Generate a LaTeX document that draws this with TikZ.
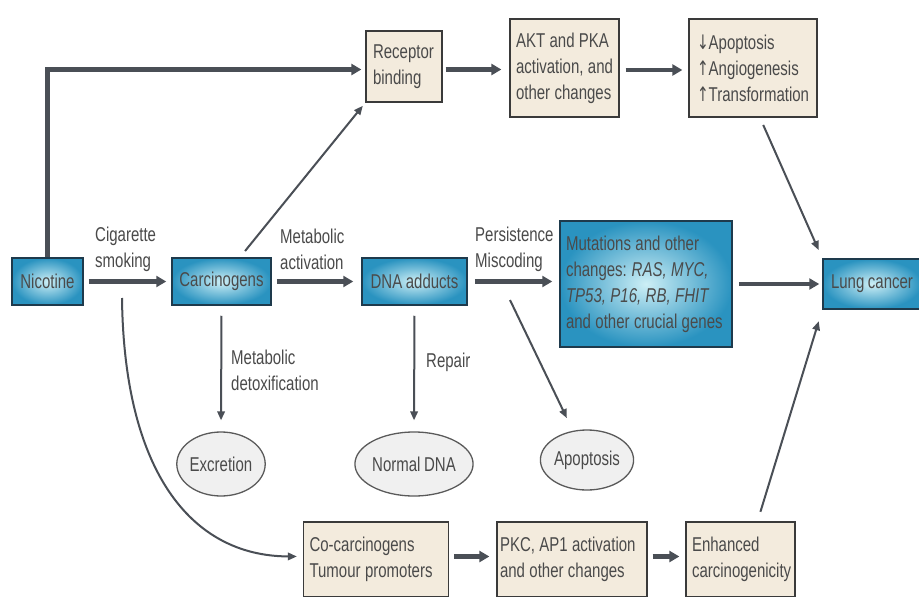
\documentclass[tikz,border=0pt]{standalone}
\usepackage{fontspec}
\setmainfont{Liberation Sans}[FakeStretch=0.75, WordSpace=0.85]
\newfontfamily\arrfont{DejaVu Sans}[FakeStretch=0.7]
\usetikzlibrary{arrows.meta,shapes.geometric}
\newcommand\wsp{\spaceskip=0.22em plus 0.05em\relax\xspaceskip=0.24em\relax}
\definecolor{txt}{HTML}{4A4A4A}
\definecolor{arr}{HTML}{4A4F56}
\definecolor{blueout}{HTML}{2A93C0}
\definecolor{bluein}{HTML}{CDEFF6}
\definecolor{bluedraw}{HTML}{1E3A4C}
\definecolor{beige}{HTML}{F3EBDD}
\definecolor{beigedraw}{HTML}{3A3A3A}
\definecolor{ellfill}{HTML}{F0F0F0}
\definecolor{elldraw}{HTML}{5A5A5A}
\begin{document}
\begin{tikzpicture}[x=1pt,y=1pt,
  every node/.style={font=\fontsize{20}{26}\selectfont, text=txt},
  bluebox/.style={rectangle, draw=bluedraw, line width=1.5pt, inner color=bluein, outer color=blueout, inner sep=0pt},
  beigebox/.style={rectangle, draw=beigedraw, line width=1.3pt, fill=beige, inner ysep=0pt, align=left},
  ellnode/.style={ellipse, draw=elldraw, line width=1.3pt, fill=ellfill, inner sep=0pt},
  lbl/.style={anchor=west, align=left, inner sep=0pt},
  thickarr/.style={draw=arr, line width=4.5pt, -{Triangle[length=10pt,width=11pt]}},
  thinarr/.style={draw=arr, line width=2pt, -{Triangle[length=9pt,width=7.5pt]}}
]
\useasboundingbox (0,0) rectangle (919,-597);
\fill[white] (0,0) rectangle (919,-597);

% blue nodes
\node[bluebox, minimum width=71, minimum height=47] (nic) at (47.5,-281.5) {Nicotine};
\node[bluebox, minimum width=99, minimum height=47] (carc) at (221.5,-281.5) {Carcinogens};
\node[bluebox, minimum width=105, minimum height=47] (dna) at (414.5,-281.5) {DNA adducts};
\node[bluebox, minimum height=126, text width=160, inner xsep=6pt, align=left] (mut) at (646,-284)
  {\wsp Mutations and other\\changes: \textit{RAS, MYC,}\\\textit{TP53, P16, RB, FHIT}\\and other crucial genes};
\node[bluebox, minimum width=98, minimum height=50] (lung) at (872,-284) {Lung cancer};

% beige nodes
\node[beigebox, minimum height=71, text width=62, inner xsep=7pt] (rec) at (404,-66.5) {\wsp Receptor\\binding};
\node[beigebox, minimum height=98, text width=97, inner xsep=6pt] (akt) at (564.5,-68) {\wsp AKT and PKA\\activation, and\\other changes};
\node[beigebox, minimum height=98, text width=112, inner xsep=8pt] (apo) at (753,-68)
  {{\arrfont ↓}Apoptosis\\{\arrfont ↑}Angiogenesis\\{\arrfont ↑}Transformation};
\node[beigebox, minimum height=75, text width=133, inner xsep=6pt] (cocarc) at (376,-559.5) {\wsp Co-carcinogens\\Tumour promoters};
\node[beigebox, minimum height=75, text width=144, inner xsep=3pt] (pkc) at (572,-559.5) {\wsp PKC, AP1 activation\\and other changes};
\node[beigebox, minimum height=75, text width=97, inner xsep=6pt] (enh) at (740.5,-559.5) {Enhanced\\carcinogenicity};

% ellipses
\node[ellnode, minimum width=82, minimum height=64] (exc) at (221,-464) {Excretion};
\node[ellnode, minimum width=104, minimum height=64] (ndna) at (414,-464) {Normal DNA};
\node[ellnode, minimum width=90, minimum height=60] (apo2) at (587,-460) {Apoptosis};

% labels
\node[lbl] (l1) at (95,-249.5) {Cigarette\\smoking};
\node[lbl] (l2) at (280,-249.5) {Metabolic\\activation};
\node[lbl] (l3) at (475,-249.5) {Persistence\\Miscoding};
\node[lbl] (l4) at (231,-370) {Metabolic\\detoxification};
\node[lbl] (l5) at (426,-362) {Repair};

% coordinates
\coordinate (cs) at (122,-298);
\coordinate (br) at (510,-300);
\coordinate (recw) at ([yshift=-3pt]rec.west);
\coordinate (rece) at ([yshift=-3pt]rec.east);
\coordinate (akte) at ([yshift=-2pt]akt.east);
\coordinate (cce) at ([yshift=3pt]cocarc.east);
\coordinate (pkce) at ([yshift=3pt]pkc.east);
\coordinate (ccw) at ([yshift=3pt]cocarc.west);

% thick arrows
\draw[thickarr, shorten <=5pt, shorten >=5pt] (nic.east) -- (carc.west);
\draw[thickarr, shorten <=5pt, shorten >=8pt] (carc.east) -- (dna.west);
\draw[thickarr, shorten <=7pt, shorten >=7pt] (dna.east) -- (dna.east -| mut.west);
\draw[thickarr, shorten <=6pt, shorten >=3pt] (mut.east |- lung.west) -- (lung.west);
\draw[thickarr, shorten >=4pt, line join=miter] (nic.north) -- (nic.north |- recw) -- (recw);
\draw[thickarr, shorten <=3pt, shorten >=8pt] (rece) -- (rece -| akt.west);
\draw[thickarr, shorten <=6pt, shorten >=6pt] (akte) -- (akte -| apo.west);
\draw[thickarr, shorten <=5pt, shorten >=7pt] (cce) -- (cce -| pkc.west);
\draw[thickarr, shorten <=5pt, shorten >=6pt] (pkce) -- (pkce -| enh.west);

% thin arrows
\draw[thinarr, shorten <=8pt, shorten >=4pt] ([xshift=18.5pt]carc.north) -- (rec.south west);
\draw[thinarr, shorten <=8pt, shorten >=9pt] ([xshift=7pt]apo.south) -- (lung.north west);
\draw[thinarr, shorten <=10pt, shorten >=12pt] ([xshift=17pt]enh.north) -- (lung.south west);
\draw[thinarr, shorten <=10pt, shorten >=11pt] (carc.south) -- (exc.north);
\draw[thinarr, shorten <=10pt, shorten >=11pt] (dna.south) -- (ndna.north);
\draw[thinarr, shorten >=14pt] (br) -- (apo2);
\draw[thinarr, shorten >=6pt] (cs) .. controls (124,-470) and (190,-556) .. (ccw);
\end{tikzpicture}
\end{document}
